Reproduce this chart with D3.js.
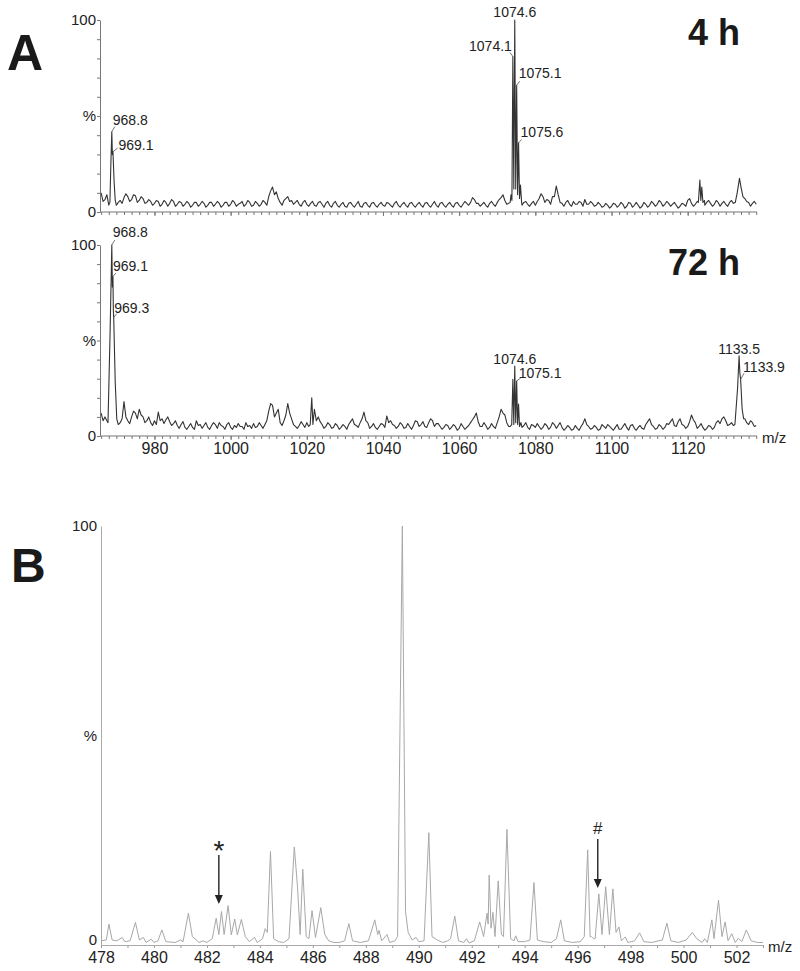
<!DOCTYPE html>
<html>
<head>
<meta charset="utf-8">
<script src="https://cdn.jsdelivr.net/npm/d3@7"></script>
<style>
  body { margin: 0; background: #fff; }
  text { font-family: "Liberation Sans", Arial, sans-serif; }
</style>
</head>
<body>
<script>
// ---- panel A : noise level at every integer m/z from 966 to 1138 and at every half step (966.5 .. 1137.5)
// null where a peak list takes over
const baseStart = 966;
const base4h = [
  10, 6.5, 3.6, null, 3.5, 6, 7.5, 8, 6.5, 8.5,
  6, 7, 5, 5.5, 4.5, 5.5, 4, 5, 4.5, 5.5,
  4, 5, 4, 4.5, 3.5, 5, 4, 4.5, 3.5, 5,
  4, 4.5, 3.5, 5, 4, 5, 4, 5.5, 4, 5,
  3.5, 4.5, 4, 5, 8, 13, 10.5, 5, 6, 8,
  6, 5, 4, 5, 4, 4.5, 3.5, 5, 4, 4.5,
  3.5, 4.5, 3.5, 4, 3, 4.5, 3.5, 4, 3, 4.5,
  3.5, 4.5, 3.5, 4, 3.5, 5, 3.5, 4.5, 3.5, 4,
  3.5, 4.5, 3.5, 4, 3.5, 4.5, 3.5, 4, 3.5, 4.5,
  3.5, 4, 3.5, 4.5, 3.5, 4, 4.5, 5, 6.5, 4.5,
  4, 3.5, 4.5, 4, 5, 7.5, 6, 4.5, null, null,
  null, 5, 4, 4.5, 3.5, 7, 8, 6.5, 4, 8,
  9, 4.5, 5, 4, 5.5, 4, 5, 6.5, 4, 4.5,
  3.5, 4, 3, 3.5, 3, 4, 3.5, 4, 3, 4.5,
  3.5, 3.5, 3, 4, 3.5, 4.5, 4, 5, 4, 4.5,
  4, 3.5, 3, 4, 6, 4.5, 4, null, null, 5,
  4.5, 4, 5, 4.5, 4, 5, 4.5, null, null, 7,
  5, 4.5, 4
];
const half4h = [
  5.5, 9, null, null, 5, 4.5, 9.5, 5.5, 9, 5,
  8, 4.5, 6.5, 3.5, 6, 3, 6, 3, 6.5, 3,
  5.5, 3, 5.5, 2.5, 5, 3, 5.5, 2.5, 5, 3,
  5.5, 2.5, 5, 3, 6, 3, 4.5, 3, 6, 3,
  5.5, 3, 6, 3.5, 11, 9, 7, 3.5, 7, 5.5,
  4, 6, 3, 6, 3, 5.5, 3, 5.5, 2.5, 5.5,
  2.5, 5.5, 2.5, 5, 2.5, 5, 2.5, 5.5, 2.5, 5,
  2.5, 5, 2.5, 5, 3, 4.5, 2.5, 5.5, 2.5, 5,
  2.5, 5, 2.5, 5, 2.5, 5, 2.5, 5.5, 2.5, 5,
  2.5, 5, 2.5, 5, 2.5, 5.5, 3.5, 7.5, 4.5, 3,
  5, 2.5, 5.5, 3, 6.5, 9, 4, null, null, null,
  3.5, 5.5, 3, 5.5, 5.5, 9.5, 5, 6, 8, 13.5,
  5, 3, 6, 3, 4, 5.5, 3, 4, 5.5, 3,
  5, 2.5, 4.5, 2, 4.5, 2.5, 5, 2, 5, 2.5,
  5, 2, 5, 2.5, 5.5, 3, 6, 3, 5.5, 3,
  5, 2, 4.5, 3, 7, 3, 5.5, null, 3.5, 6,
  3, 6, 3, 5.5, 3, 6, null, null, 8, 5.5,
  3, 5.5
];
const peaks4h = [
  [968.3, 5], [968.55, 25], [968.8, 41.8], [968.95, 30], [969.1, 31.4], [969.4, 16], [969.7, 6],
  [1073.4, 5], [1073.6, 9], [1073.85, 6], [1074.1, 81], [1074.35, 12], [1074.6, 100], [1074.85, 12],
  [1075.1, 66], [1075.35, 9], [1075.6, 36], [1075.85, 7], [1076.1, 14], [1076.4, 5],
  [1122.8, 5], [1123.2, 16.7], [1123.45, 6], [1123.7, 13], [1124.0, 5], [1124.4, 6],
  [1132.5, 5], [1133.0, 10], [1133.6, 17.5], [1134.0, 13], [1134.4, 9]
];
const base72h = [
  12, 10, null, null, null, 7, 18, 8, 10, 12,
  14, 10, 8, 7, 8, 12.5, 9, 8.5, 7.5, 6.5,
  5.5, 6, 4.5, 5, 4.5, 8, 6, 5.5, 4.5, 5.5,
  6, 7, 5, 6, 4.5, 5.5, 6.5, 5, 7, 5.5,
  6.5, 5, 5.5, 6, 13, 16, 12, 7, 8, 17,
  9, 5, 5.5, 6, 7, null, 14, 10, 6, 5,
  6, 4.5, 5.5, 4.5, 5, 6, 9, 5.5, 7, 12.5,
  7, 5, 4.5, 5, 6, 10.5, 8, 5.5, 5, 6,
  4.5, 5, 5.5, 7.5, 6, 5, 7, 8, 6.5, 5,
  4.5, 5.5, 4.5, 5, 4, 5, 4.5, 7, 10, 7.5,
  5, 5.5, 4.5, 5, 7, 14, 11, 5, null, null,
  null, 5.5, 4.5, 6, 4.5, 5, 4.5, 5.5, 4.5, 6,
  5.5, 4.5, 4, 4.5, 3.5, 4, 5, 9, 5, 4,
  4.5, 3.5, 5, 6, 4, 4.5, 3.5, 5, 4.5, 5.5,
  4, 4.5, 4, 6, 9, 5, 4, 5, 4.5, 6,
  9, 5, 9, 5.5, 5, 11, 7, 5, 4.5, 4,
  5, 4.5, 8, 9, 8, 6, 5.5, null, null, 9,
  6, 7, 5.5
];
const half72h = [
  8, 8, null, null, 6, 9, 10, 6.5, 13, 9,
  11, 7, 10, 5.5, 6, 8, 6.5, 10, 5.5, 8,
  4, 7.5, 3.5, 6.5, 3.5, 5.5, 4, 7, 3.5, 7,
  4, 5.5, 3.5, 7, 3.5, 4.5, 5, 3.5, 5, 4,
  4.5, 7, 4, 8, 17, 10, 14, 5.5, 11, 12,
  6, 4, 7.5, 4.5, 5, null, 8, 7.5, 4, 7,
  4, 6.5, 3.5, 6, 3.5, 7.5, 6, 4.5, 9, 8,
  4, 6.5, 3.5, 6.5, 4.5, 7, 6, 4, 7, 4,
  6.5, 3.5, 8, 5, 7.5, 4.5, 9, 5, 6.5, 3.5,
  6, 3.5, 6, 3, 6.5, 3.5, 5.5, 8.5, 12, 5,
  7, 3.5, 6.5, 4, 10, 12, 7, null, null, null,
  null, 7, 3.5, 5.5, 6.5, 3.5, 6.5, 3.5, 7, 4,
  7, 3, 5.5, 3, 5.5, 3, 6.5, 6, 3.5, 5.5,
  3, 6, 4, 5, 3, 6, 3.5, 6.5, 3, 6,
  3, 5.5, 3.5, 7.5, 6, 3.5, 6, 3.5, 6.5, 7.5,
  5.5, 7.5, 6, 4, 7.5, 8.5, 4, 6.5, 3, 5.5,
  3.5, 7, 6.5, 10, 5.5, 7, null, null, null, 7,
  8, 5
];
const peaks72h = [
  [967.8, 7], [968.35, 54], [968.8, 100], [968.95, 78], [969.1, 83.5], [969.2, 66], [969.3, 62], [969.7, 28], [970.1, 9],
  [1020.9, 6], [1021.3, 20], [1021.6, 6],
  [1073.4, 5], [1073.8, 6], [1074.1, 29.7], [1074.35, 6], [1074.6, 36.6], [1074.85, 7],
  [1075.1, 28.8], [1075.35, 6], [1075.6, 16.7], [1075.85, 5], [1076.2, 7], [1076.5, 4.5],
  [1132.4, 6], [1133.1, 25], [1133.5, 42], [1133.7, 33], [1133.9, 29.7], [1134.3, 14], [1134.7, 9]
];
const labels4h = ["968.8", "969.1", "1074.1", "1074.6", "1075.1", "1075.6"];
const labels72h = ["968.8", "969.1", "969.3", "1074.6", "1075.1", "1133.5", "1133.9"];
const ticksA = [980, 1000, 1020, 1040, 1060, 1080, 1100, 1120];

// ---- panel B : spectrum points [m/z, %]
const specB = [
  [478.0, 1.0], [478.2, 1.2], [478.3, 5.0], [478.42, 1.2], [478.6, 1.0], [478.8, 1.8], [478.9, 0.8], [479.1, 1.0],
  [479.3, 5.4], [479.45, 1.2], [479.6, 1.8], [479.7, 0.6], [479.9, 1.4], [480.0, 0.6], [480.15, 1.0], [480.3, 3.6],
  [480.45, 0.8], [480.8, 0.6], [481.0, 1.2], [481.1, 0.8], [481.3, 7.6], [481.45, 2.0], [481.55, 1.5], [481.7, 0.6],
  [481.85, 1.0], [482.0, 0.6], [482.2, 1.5], [482.35, 6.4], [482.45, 2.5], [482.55, 8.0], [482.65, 2.5], [482.8, 9.4],
  [482.92, 2.4], [483.05, 6.2], [483.15, 2.4], [483.3, 6.1], [483.45, 2.0], [483.6, 0.8], [483.8, 1.8], [483.9, 0.6],
  [484.1, 1.5], [484.2, 3.9], [484.28, 3.0], [484.4, 22.3], [484.52, 1.5], [484.7, 0.8], [484.9, 0.6], [485.1, 1.5],
  [485.3, 23.4], [485.42, 14], [485.52, 2.5], [485.62, 18.1], [485.75, 2.0], [485.85, 1.5], [485.97, 8.2], [486.1, 1.8],
  [486.3, 8.9], [486.45, 2.5], [486.6, 1.0], [486.8, 0.6], [487.0, 0.6], [487.2, 1.0], [487.36, 5.1], [487.5, 1.0],
  [487.8, 0.6], [488.1, 1.0], [488.34, 6.0], [488.45, 2.5], [488.5, 3.5], [488.6, 1.0], [488.8, 2.5], [488.9, 0.6],
  [489.1, 1.0], [489.2, 2.0], [489.38, 100], [489.5, 8], [489.6, 3], [489.75, 1.2], [489.9, 1.8], [490.0, 0.8],
  [490.2, 1.0], [490.38, 26.8], [490.5, 2.0], [490.7, 1.2], [490.9, 0.6], [491.1, 1.0], [491.2, 1.5], [491.36, 6.9],
  [491.5, 1.0], [491.7, 0.6], [491.8, 1.5], [491.9, 0.5], [492.1, 1.0], [492.3, 5.5], [492.45, 2.0], [492.58, 7.6],
  [492.62, 5], [492.66, 16.7], [492.73, 4], [492.8, 7.8], [492.88, 2], [493.0, 15.3], [493.12, 2.5], [493.2, 2.0],
  [493.33, 27.6], [493.47, 1.5], [493.6, 1.0], [493.66, 2.2], [493.75, 0.8], [494.0, 0.8], [494.2, 1.2], [494.35, 14.9],
  [494.48, 1.2], [494.7, 0.8], [495.0, 0.6], [495.2, 1.5], [495.36, 6.0], [495.5, 1.0], [495.8, 0.6], [496.1, 0.8],
  [496.25, 2.0], [496.38, 22.7], [496.47, 2.0], [496.52, 2.0], [496.6, 1.5], [496.66, 1.5], [496.8, 12.2], [496.92, 2.5],
  [497.06, 13.9], [497.2, 2.5], [497.33, 13.4], [497.45, 3], [497.56, 4.3], [497.65, 1.0], [497.8, 1.9], [497.9, 0.6],
  [498.15, 1.0], [498.34, 2.9], [498.5, 0.8], [498.8, 0.6], [499.2, 1.2], [499.37, 5.2], [499.52, 1.0], [499.8, 0.6],
  [500.1, 1.2], [500.33, 3.0], [500.5, 1.5], [500.7, 0.6], [500.8, 1.5], [500.9, 0.6], [501.07, 6.0], [501.15, 1.5],
  [501.32, 10.7], [501.45, 2.0], [501.57, 5.5], [501.68, 1.0], [501.82, 2.7], [501.95, 0.6], [502.07, 1.6], [502.2, 0.8],
  [502.37, 3.6], [502.55, 1.0], [502.8, 0.6], [503.0, 0.6]
];
const markSymbols = ["*", "#"];
const markMz = [482.45, 496.76];
const markTipPct = [9.8, 13.6];
const ticksB = d3.range(478, 503, 2);

(function () {
  'use strict';

  var svg = d3.select('body').append('svg')
      .attr('width', 800)
      .attr('height', 971);

  // label placement (px offsets from the peak top): text dx/dy, leader end, anchor
  var place4h = {
    "968.8":  {t: [1, -7],    l: [3, -5],    a: "start"},
    "969.1":  {t: [5.5, -1.5], l: [4.5, -3.5], a: "start"},
    "1074.1": {t: [-1, -5.5], l: [-3, -4],   a: "end"},
    "1074.6": {t: [0, -3],    l: null,       a: "middle"},
    "1075.1": {t: [2, -7],    l: [3, -4],    a: "start"},
    "1075.6": {t: [2, -6],    l: [3, -3.5],  a: "start"}
  };
  var place72h = {
    "968.8":  {t: [1, -8],    l: [3, -5],    a: "start"},
    "969.1":  {t: [0, -6],    l: [3, -3.5],  a: "start"},
    "969.3":  {t: [0.5, -5],  l: [3, -4],    a: "start"},
    "1074.6": {t: [0, -2],    l: null,       a: "middle"},
    "1075.1": {t: [2, -3],    l: [4, -3],    a: "start"},
    "1133.5": {t: [0, -2],    l: null,       a: "middle"},
    "1133.9": {t: [2.5, -7],  l: [3.5, -6],  a: "start"}
  };

  function profile(base, half, peaks) {
    var pts = [];
    base.forEach(function (v, i) { if (v !== null) pts.push([baseStart + i, v]); });
    half.forEach(function (v, i) { if (v !== null) pts.push([baseStart + i + 0.5, v]); });
    peaks.forEach(function (p) { pts.push(p); });
    return pts.sort(function (a, b) { return a[0] - b[0]; });
  }

  var xA = d3.scaleLinear().domain([965.7, 1138.2]).range([100, 757]);

  function styleText(a, size) {
    a.selectAll('text').attr('font-size', size).attr('fill', '#222')
      .attr('font-family', '"Liberation Sans", Arial, sans-serif');
  }

  function panelA(base, half, peaks, labels, place, y0, y100, showLabels, title, titleY) {
    var y = d3.scaleLinear().domain([0, 100]).range([y0, y100]);
    var g = svg.append('g');

    // y axis
    g.append('g').attr('transform', 'translate(100,0)')
      .call(d3.axisLeft(y).tickValues(d3.range(0, 101, 10)).tickSize(3).tickFormat(''))
      .call(function (a) { a.select('.domain').remove(); a.selectAll('line').attr('stroke', '#777'); });
    g.append('g').attr('transform', 'translate(100,0)')
      .call(d3.axisLeft(y).tickValues([0, 50, 100]).tickSize(0).tickPadding(4)
        .tickFormat(function (d) { return d === 50 ? '%' : d; }))
      .call(function (a) {
        a.select('.domain').attr('stroke', '#777');
        styleText(a, 15);
      });

    // x axis
    g.append('g').attr('transform', 'translate(0,' + y0 + ')')
      .call(d3.axisBottom(xA).tickValues(d3.range(966, 1139, 2)).tickSize(3).tickFormat(''))
      .call(function (a) { a.select('.domain').remove(); a.selectAll('line').attr('stroke', '#777'); });
    g.append('g').attr('transform', 'translate(0,' + y0 + ')')
      .call(d3.axisBottom(xA).tickValues(ticksA).tickSize(4).tickPadding(3)
        .tickFormat(showLabels ? d3.format('d') : ''))
      .call(function (a) {
        a.select('.domain').attr('stroke', '#777').attr('d', 'M100,0H757');
        a.selectAll('line').attr('stroke', '#777');
        styleText(a, 16);
      });

    var line = d3.line().x(function (d) { return xA(d[0]); }).y(function (d) { return y(d[1]); });
    g.append('path')
      .datum(profile(base, half, peaks))
      .attr('d', line)
      .attr('fill', 'none')
      .attr('stroke', '#333')
      .attr('stroke-width', 1.1)
      .attr('stroke-linejoin', 'round');

    labels.forEach(function (lab) {
      var mz = parseFloat(lab);
      var pk = peaks.find(function (p) { return p[0] === mz; });
      var ax = xA(mz), ay = y(pk[1]);
      var p = place[lab];
      if (p.l) {
        g.append('line')
          .attr('x1', ax).attr('y1', ay)
          .attr('x2', ax + p.l[0]).attr('y2', ay + p.l[1])
          .attr('stroke', '#555').attr('stroke-width', 0.8);
      }
      g.append('text')
        .attr('x', ax + p.t[0]).attr('y', ay + p.t[1])
        .attr('text-anchor', p.a)
        .attr('font-size', 14).attr('fill', '#222')
        .text(lab);
    });

    g.append('text')
      .attr('x', 740).attr('y', titleY)
      .attr('text-anchor', 'end')
      .attr('font-size', 36).attr('font-weight', 'bold').attr('fill', '#1a1a1a')
      .text(title);
  }

  panelA(base4h, half4h, peaks4h, labels4h, place4h, 212, 20, false, '4 h', 45);
  panelA(base72h, half72h, peaks72h, labels72h, place72h, 436, 245, true, '72 h', 275);

  svg.append('text').attr('x', 762).attr('y', 443)
    .attr('font-size', 15).attr('fill', '#222').text('m/z');

  svg.append('text').attr('x', 7).attr('y', 70)
    .attr('font-size', 50).attr('font-weight', 'bold').attr('fill', '#1a1a1a').text('A');

  // ---- panel B
  var xB = d3.scaleLinear().domain([478, 503]).range([101, 763]);
  var yB = d3.scaleLinear().domain([0, 100]).range([945, 526]);
  var gB = svg.append('g');

  gB.append('g').attr('transform', 'translate(101,0)')
    .call(d3.axisLeft(yB).tickValues([0, 50, 100]).tickSize(0).tickPadding(4)
      .tickFormat(function (d) { return d === 50 ? '%' : d; }))
    .call(function (a) {
      a.select('.domain').attr('stroke', '#aaa');
      styleText(a, 15);
      // lift the zero a little so it clears the first m/z label
      a.selectAll('.tick').filter(function (d) { return d === 0; }).select('text').attr('y', -5);
    });
  gB.append('g').attr('transform', 'translate(0,945)')
    .call(d3.axisBottom(xB).tickValues(d3.range(478, 504, 1)).tickSize(3).tickFormat(''))
    .call(function (a) { a.select('.domain').remove(); a.selectAll('line').attr('stroke', '#999'); });
  gB.append('g').attr('transform', 'translate(0,945)')
    .call(d3.axisBottom(xB).tickValues(ticksB).tickSize(0).tickPadding(7).tickFormat(d3.format('d')))
    .call(function (a) {
      a.select('.domain').attr('stroke', '#aaa');
      styleText(a, 16);
    });

  var lineB = d3.line().x(function (d) { return xB(d[0]); }).y(function (d) { return yB(d[1]); });
  gB.append('path')
    .datum(specB)
    .attr('d', lineB)
    .attr('fill', 'none')
    .attr('stroke', '#a8a8a8')
    .attr('stroke-width', 1)
    .attr('stroke-linejoin', 'round');

  markSymbols.forEach(function (s, i) {
    var x = xB(markMz[i]);
    var tip = yB(markTipPct[i]);
    var top = tip - 49;
    gB.append('line').attr('x1', x).attr('x2', x).attr('y1', top).attr('y2', tip - 7)
      .attr('stroke', '#222').attr('stroke-width', 1.4);
    gB.append('path')
      .attr('d', 'M' + (x - 4) + ',' + (tip - 9) + 'L' + (x + 4) + ',' + (tip - 9) + 'L' + x + ',' + tip + 'Z')
      .attr('fill', '#222');
    gB.append('text')
      .attr('x', x).attr('y', s === '*' ? top + 5 : top - 5)
      .attr('text-anchor', 'middle')
      .attr('font-size', s === '*' ? 28 : 17).attr('fill', '#222')
      .text(s);
  });

  svg.append('text').attr('x', 768).attr('y', 952)
    .attr('font-size', 15).attr('fill', '#222').text('m/z');

  svg.append('text').attr('x', 11).attr('y', 582)
    .attr('font-size', 48).attr('font-weight', 'bold').attr('fill', '#1a1a1a').text('B');
}());
</script>
</body>
</html>
